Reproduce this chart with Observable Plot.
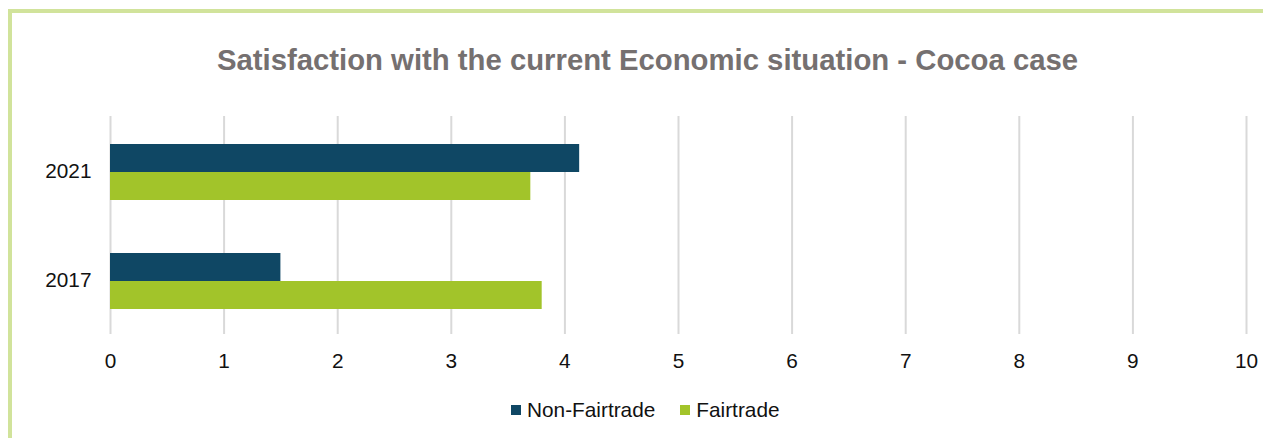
<!DOCTYPE html>
<html>
<head>
<meta charset="utf-8">
<script src="https://cdn.jsdelivr.net/npm/d3@7"></script>
<script src="https://cdn.jsdelivr.net/npm/@observablehq/plot@0.6"></script>
<style>
  html, body { margin: 0; padding: 0; background: #fff; }
  body { width: 1263px; height: 438px; position: relative; overflow: hidden; font-family: "Liberation Sans", Arial, sans-serif; }
  #frame { position: absolute; left: 8px; top: 9px; width: 1255px; height: 429px; border-top: 4px solid #d1e39b; border-left: 4px solid #d1e39b; box-sizing: border-box; }
  #title { position: absolute; left: 32px; width: 1231px; top: 45px; text-align: center; font-size: 29.3px; line-height: 29px; font-weight: bold; color: #757070; white-space: nowrap; }
  #chart { position: absolute; left: 0; top: 0; }
  #legend { position: absolute; top: 399px; left: 511px; display: flex; align-items: center; font-size: 20.8px; line-height: 22px; color: #111; white-space: nowrap; }
  .sw { width: 10px; height: 10px; display: inline-block; margin-right: 6px; }
  .item { display: flex; align-items: center; margin-right: 25px; }
</style>
</head>
<body>
<div id="frame"></div>
<div id="title">Satisfaction with the current Economic situation - Cocoa case</div>
<div id="chart"></div>
<div id="legend"></div>
<script>
const years = ["2021", "2017"];
const series = ["Non-Fairtrade", "Fairtrade"];
const nonFairtrade = [4.13, 1.5];
const fairtrade = [3.7, 3.8];
const xTicks = [0, 1, 2, 3, 4, 5, 6, 7, 8, 9, 10];
const colors = ["#0f4764", "#a2c42a"];

const rows = [];
years.forEach((yr, i) => {
  rows.push({year: yr, series: series[0], value: nonFairtrade[i]});
  rows.push({year: yr, series: series[1], value: fairtrade[i]});
});

const chart = Plot.plot({
  width: 1263,
  height: 380,
  marginTop: 116,
  marginBottom: 46,
  marginLeft: 110,
  marginRight: 17,
  style: {fontSize: "20.8px", fontFamily: "'Liberation Sans', Arial, sans-serif", color: "#111", background: "transparent"},
  x: {domain: [0, 10], ticks: xTicks, tickSize: 0, tickPadding: 19, label: null},
  y: {domain: series, axis: null, paddingInner: 0, paddingOuter: 0.946},
  fy: {domain: years, label: null, tickSize: 0, tickPadding: 19, padding: 0, axis: "left"},
  facet: {data: rows, y: "year"},
  color: {domain: series, range: colors},
  marks: [
    Plot.ruleX(xTicks, {stroke: "#d9d9d9", strokeWidth: 2}),
    Plot.barX(rows, {x: "value", y: "series", fill: "series", dy: 1})
  ]
});
document.getElementById("chart").appendChild(chart);

const legend = document.getElementById("legend");
series.forEach((s, i) => {
  const item = document.createElement("div");
  item.className = "item";
  const sw = document.createElement("span");
  sw.className = "sw";
  sw.style.background = colors[i];
  const t = document.createElement("span");
  t.textContent = s;
  item.appendChild(sw);
  item.appendChild(t);
  legend.appendChild(item);
});
</script>
</body>
</html>
